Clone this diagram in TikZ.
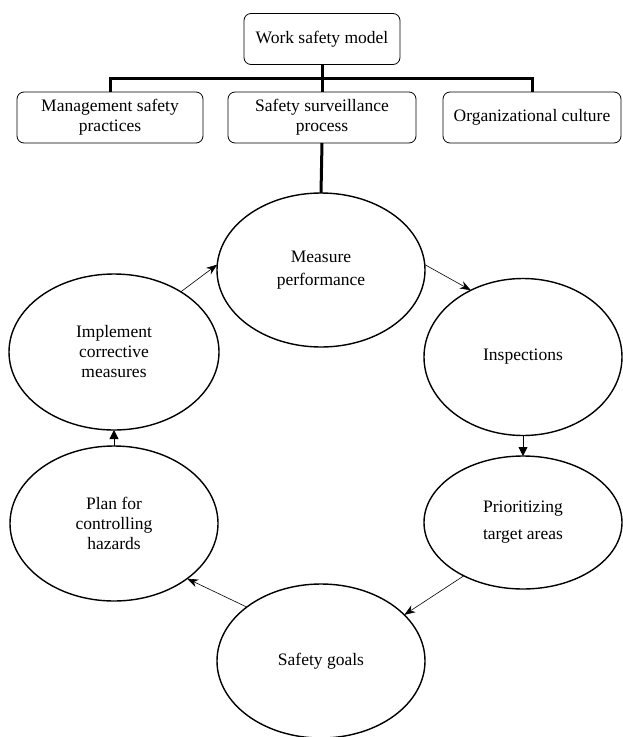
\documentclass[tikz,border=0pt]{standalone}
\usepackage{fontspec}
\setmainfont{Liberation Serif}
\usetikzlibrary{shapes.geometric,arrows.meta}
\tikzset{
  stage/.style={draw, ellipse, line width=1.4pt, inner sep=0pt, outer sep=0pt, align=center},
  part/.style={draw, rounded corners=7pt, line width=0.8pt, inner sep=0pt, outer sep=0pt, align=center, minimum height=51pt},
  tree/.style={line width=3pt},
  flow/.style={line width=0.6pt, -{Stealth[length=11pt,width=8pt,inset=3.5pt]}},
  drop/.style={line width=0.8pt, -{Triangle[length=9pt,width=9pt]}},
}

\begin{document}
\begin{tikzpicture}[x=1pt,y=-1pt,font=\fontsize{17.5}{20}\selectfont]
			%%%%% START %%%%%
			\def\xl{114}
			\def\xm{321}
			\def\xr{523}
			\def\yhead{117.5}
			\def\ybar{78}

			\useasboundingbox (0,0) rectangle (622,737);

			\node[part, minimum width=156pt] (model) at (322,39) {Work safety model};
			\node[part, minimum width=186pt] (mgmt) at (110,\yhead) {Management safety\\practices};
			\node[part, minimum width=188pt] (surv) at (322,\yhead) {Safety surveillance\\process};
			\node[part, minimum width=178pt] (culture) at (532,\yhead) {Organizational culture};

			\coordinate (bar) at (322,\ybar);
			\draw[tree] (model.south) -- (surv.north);
			\draw[tree] (mgmt.north) |- (bar) -| (culture.north);

			\node[stage, minimum width=208pt, minimum height=154pt] (measure) at (\xm,270) {Measure\\[3pt]performance};
			\node[stage, minimum width=210pt, minimum height=156pt] (implement) at (\xl,352) {Implement\\corrective\\measures};
			\node[stage, minimum width=198pt, minimum height=157pt] (inspect) at (\xr,357) {Inspections};
			\node[stage, minimum width=198pt, minimum height=133pt] (target) at (\xr,522.5) {Prioritizing\\[7pt]target areas};
			\node[stage, minimum width=208pt, minimum height=154pt] (goals) at (\xm,661) {Safety goals};
			\node[stage, minimum width=208pt, minimum height=155pt] (plan) at (\xl,523.5) {Plan for\\controlling\\hazards};

			\draw[tree] (surv.south) -- (measure.north);

			\draw[flow] (implement.42) -- (measure.177);
			\draw[flow] (measure.3) -- (inspect.128);
			\draw[drop] (inspect.south) -- (target.north);
			\draw[flow] (target.222) -- (goals.29);
			\draw[flow] (goals.144) -- (plan.323);
			\draw[drop] (plan.north) -- (implement.south);
			%%%%% END %%%%%
\end{tikzpicture}
\end{document}
